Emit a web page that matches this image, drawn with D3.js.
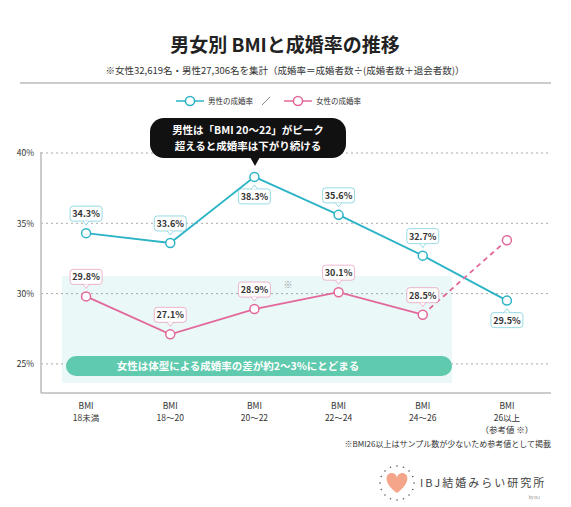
<!DOCTYPE html><html><head><meta charset="utf-8"><script src="https://d3js.org/d3.v7.min.js"></script>
<style>body{margin:0;background:#fff}text{font-family:"Noto Sans CJK JP","Noto Sans",sans-serif}</style></head><body><svg id="c" width="571" height="507"></svg><script>
const categories=["BMI\n18未満","BMI\n18〜20","BMI\n20〜22","BMI\n22〜24","BMI\n24〜26","BMI\n26以上\n（参考値 ※）"];
const maleValues=[34.3,33.6,38.3,35.6,32.7,29.5];
const femaleValues=[29.8,27.1,28.9,30.1,28.5,33.8];
const yTicks=[25,30,35,40];
const maleLabelPos=["up","up","down","up","up","down"];
const femaleShowLabel=[true,true,true,true,true,false];
const M="#2bb3c6",F="#e2689b";
const svg=d3.select("#c");
const x=d3.scalePoint().domain(d3.range(6)).range([44,549]).padding(0.5);
const y=d3.scaleLinear().domain([23,40]).range([392,153]);

svg.append("text").attr("x",285).attr("y",52).attr("text-anchor","middle").attr("font-size",19).attr("font-weight",700).attr("fill","#222").text("男女別 BMIと成婚率の推移");
svg.append("text").attr("x",285).attr("y",74).attr("text-anchor","middle").attr("font-size",9.5).attr("fill","#333").text("※女性32,619名・男性27,306名を集計（成婚率＝成婚者数÷(成婚者数＋退会者数)）");
svg.append("line").attr("x1",20).attr("x2",551).attr("y1",83).attr("y2",83).attr("stroke","#999").attr("stroke-width",1);

function legendItem(cx,color,label){
  svg.append("line").attr("x1",cx-14).attr("x2",cx+14).attr("y1",101).attr("y2",101).attr("stroke",color).attr("stroke-width",1.5);
  svg.append("circle").attr("cx",cx).attr("cy",101).attr("r",4.5).attr("fill","#fff").attr("stroke",color).attr("stroke-width",1.5);
  svg.append("text").attr("x",cx+18).attr("y",104).attr("font-size",7.5).attr("fill","#333").text(label);
}
legendItem(190,M,"男性の成婚率");
svg.append("line").attr("x1",262).attr("x2",270).attr("y1",105).attr("y2",97).attr("stroke","#888");
legendItem(298,F,"女性の成婚率");

svg.append("rect").attr("x",62).attr("y",276).attr("width",390).attr("height",107).attr("fill","#eaf8f8");

yTicks.forEach(t=>{
  svg.append("line").attr("x1",41).attr("x2",551).attr("y1",y(t)).attr("y2",y(t)).attr("stroke","#aaa").attr("stroke-dasharray","2,3");
});
const ya=svg.append("g").attr("transform","translate(41,0)").call(d3.axisLeft(y).tickValues(yTicks).tickSize(0).tickFormat(d=>d+"%"));
ya.select(".domain").remove();
ya.selectAll("text").attr("font-size",8.5).attr("fill","#333").attr("dx",-4).attr("font-family","Noto Sans CJK JP");
svg.append("line").attr("x1",41).attr("x2",41).attr("y1",152).attr("y2",393).attr("stroke","#bbb").attr("stroke-width",1.5);
svg.append("line").attr("x1",41).attr("x2",551).attr("y1",393).attr("y2",393).attr("stroke","#bbb").attr("stroke-width",1.5);

categories.forEach((c,i)=>{
  c.split("\n").forEach((l,j)=>{
    svg.append("text").attr("x",x(i)).attr("y",409+j*12).attr("text-anchor","middle").attr("font-size",8.5).attr("fill","#333").text(l);
  });
});

svg.append("rect").attr("x",66).attr("y",356).attr("width",386).attr("height",20).attr("rx",10).attr("fill","#5fcaae");
svg.append("text").attr("x",238).attr("y",370).attr("text-anchor","middle").attr("font-size",10.5).attr("font-weight",700).attr("fill","#fff").text("女性は体型による成婚率の差が約2〜3%にとどまる");
svg.append("text").attr("x",288).attr("y",288).attr("text-anchor","middle").attr("font-size",9).attr("fill","#999").text("※");

const line=d3.line().x((d,i)=>x(i)).y(d=>y(d));
svg.append("path").attr("d",line(maleValues)).attr("fill","none").attr("stroke",M).attr("stroke-width",1.8);
svg.append("path").attr("d",d3.line().x(d=>x(d[0])).y(d=>y(d[1]))(femaleValues.slice(0,5).map((v,i)=>[i,v]))).attr("fill","none").attr("stroke",F).attr("stroke-width",1.8);
svg.append("path").attr("d",d3.line().x(d=>x(d[0])).y(d=>y(d[1]))([[4,femaleValues[4]],[5,femaleValues[5]]])).attr("fill","none").attr("stroke",F).attr("stroke-width",1.8).attr("stroke-dasharray","5,4");

function label(cx,cy,txt,color,pos){
  const w=32,h=15;
  const by=pos==="up"?cy-12-h:cy+12;
  const g=svg.append("g");
  const tip=pos==="up"?`M${cx-3},${by+h} L${cx},${by+h+4} L${cx+3},${by+h}`:`M${cx-3},${by} L${cx},${by-4} L${cx+3},${by}`;
  g.append("rect").attr("x",cx-w/2).attr("y",by).attr("width",w).attr("height",h).attr("rx",3).attr("fill","#fff").attr("stroke",color).attr("stroke-width",0.8).attr("stroke-opacity",0.6);
  g.append("path").attr("d",tip).attr("fill","#fff").attr("stroke",color).attr("stroke-width",0.8).attr("stroke-opacity",0.6);
  g.append("text").attr("x",cx).attr("y",by+11).attr("text-anchor","middle").attr("font-size",9).attr("font-weight",700).attr("fill","#333").text(txt.toFixed(1)+"%");
}
maleValues.forEach((v,i)=>label(x(i),y(v),v,M,maleLabelPos[i]));
femaleValues.forEach((v,i)=>{if(femaleShowLabel[i])label(x(i),y(v),v,F,"up");});

svg.selectAll(".pm").data(maleValues).enter().append("circle").attr("cx",(d,i)=>x(i)).attr("cy",d=>y(d)).attr("r",4.5).attr("fill","#fff").attr("stroke",M).attr("stroke-width",1.5);
svg.selectAll(".pf").data(femaleValues).enter().append("circle").attr("cx",(d,i)=>x(i)).attr("cy",d=>y(d)).attr("r",4.5).attr("fill","#fff").attr("stroke",F).attr("stroke-width",1.5);

svg.append("rect").attr("x",150).attr("y",118).attr("width",196).attr("height",40).attr("rx",14).attr("fill","#111");
svg.append("path").attr("d","M250,157 L255,166 L260,157 Z").attr("fill","#111");
svg.append("text").attr("x",248).attr("y",134).attr("text-anchor","middle").attr("font-size",10.5).attr("font-weight",700).attr("fill","#fff").text("男性は「BMI 20〜22」がピーク");
svg.append("text").attr("x",248).attr("y",150).attr("text-anchor","middle").attr("font-size",10.5).attr("font-weight",700).attr("fill","#fff").text("超えると成婚率は下がり続ける");

svg.append("text").attr("x",551).attr("y",447).attr("text-anchor","end").attr("font-size",8).attr("fill","#333").text("※BMI26以上はサンプル数が少ないため参考値として掲載");

const lg=svg.append("g").attr("transform","translate(397,483)");
d3.range(16).forEach(k=>{const a=k/16*2*Math.PI;lg.append("circle").attr("cx",Math.cos(a)*17).attr("cy",Math.sin(a)*17).attr("r",0.8).attr("fill","#555");});
lg.append("path").attr("d","M0,10 C-14,0 -12,-10 -5,-10 C-2,-10 0,-7 0,-5 C0,-7 2,-10 5,-10 C12,-10 14,0 0,10 Z").attr("fill","#f4a58a");
svg.append("text").attr("x",420).attr("y",487).attr("font-size",11).attr("fill","#444").attr("letter-spacing",2).text("IBJ結婚みらい研究所");
svg.append("text").attr("x",540).attr("y",499).attr("text-anchor","end").attr("font-size",4).attr("fill","#888").text("by IBJ");
</script></body></html>
